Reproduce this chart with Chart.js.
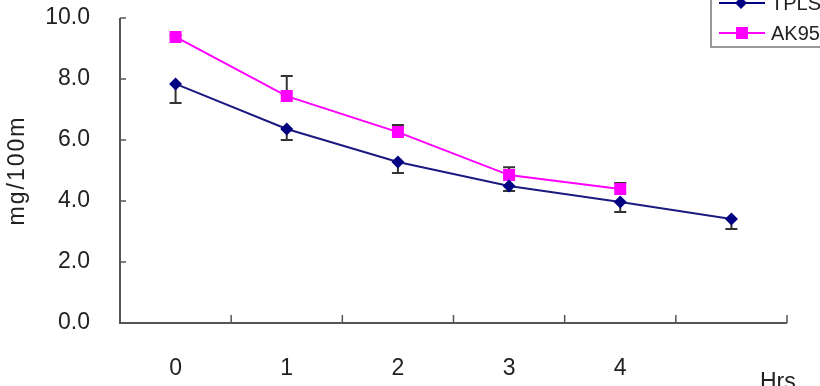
<!DOCTYPE html>
<html>
<head>
<meta charset="utf-8">
<script src="https://cdn.jsdelivr.net/npm/chart.js@4/dist/chart.umd.min.js"></script>
<style>
  body { margin: 0; background: #fff; }
</style>
</head>
<body>
<canvas id="chart" width="820" height="386"></canvas>
<script>
// values
let hours = ["0", "1", "2", "3", "4", ""];
let tplsValues = [7.84, 6.36, 5.28, 4.49, 3.97, 3.41];
let tplsErr = [0.63, 0.36, 0.36, 0.16, 0.33, 0.33];
let akValues = [9.38, 7.44, 6.26, 4.85, 4.39, null];
let akErr = [0.05, 0.66, 0.23, 0.26, 0.2, null];
let yTicks = [0, 2, 4, 6, 8, 10];

let font = "Liberation Sans";
let axisColor = "#555";

// error bars: TPLS drawn downward, AK95 upward
let errorBars = {
  id: "errorBars",
  beforeDatasetsDraw(chart) {
    let ctx = chart.ctx;
    let y = chart.scales.y;
    ctx.save();
    ctx.strokeStyle = "#333";
    ctx.lineWidth = 2;
    chart.data.datasets.forEach((ds, i) => {
      let meta = chart.getDatasetMeta(i);
      meta.data.forEach((pt, j) => {
        let v = ds.data[j];
        let e = ds.errors[j];
        if (v == null || e == null) return;
        let yEnd = y.getPixelForValue(v + e * ds.errorDir);
        ctx.beginPath();
        ctx.moveTo(pt.x, pt.y);
        ctx.lineTo(pt.x, yEnd);
        ctx.moveTo(pt.x - 6, yEnd);
        ctx.lineTo(pt.x + 6, yEnd);
        ctx.stroke();
      });
    });
    ctx.restore();
  }
};

// axis lines with inward tick marks, axis titles and the clipped legend box
let decorations = {
  id: "decorations",
  afterDraw(chart) {
    let ctx = chart.ctx;
    let area = chart.chartArea;
    let y = chart.scales.y;
    ctx.save();

    ctx.strokeStyle = axisColor;
    ctx.lineWidth = 2;
    ctx.beginPath();
    ctx.moveTo(area.left, area.top);
    ctx.lineTo(area.left, area.bottom);
    ctx.lineTo(area.right, area.bottom);
    ctx.stroke();

    ctx.lineWidth = 1.5;
    ctx.beginPath();
    yTicks.forEach((t) => {
      let py = y.getPixelForValue(t);
      ctx.moveTo(area.left, py);
      ctx.lineTo(area.left + 6, py);
    });
    let step = (area.right - area.left) / hours.length;
    for (let i = 1; i <= hours.length; i++) {
      let px = area.left + step * i;
      ctx.moveTo(px, area.bottom);
      ctx.lineTo(px, area.bottom - 8);
    }
    ctx.stroke();

    ctx.fillStyle = "#222";
    ctx.font = "23px '" + font + "'";
    ctx.letterSpacing = "2px";
    ctx.translate(18, (area.top + area.bottom) / 2);
    ctx.rotate(-Math.PI / 2);
    ctx.textAlign = "center";
    ctx.textBaseline = "middle";
    ctx.fillText("mg/100m", 0, 0);
    ctx.setTransform(1, 0, 0, 1, 0, 0);
    ctx.letterSpacing = "0px";

    ctx.textAlign = "left";
    ctx.textBaseline = "top";
    ctx.fillText("Hrs", 760, 371);

    // legend box, cut by the right edge as in the reference
    ctx.strokeStyle = "#777";
    ctx.lineWidth = 1.5;
    ctx.strokeRect(711, -5, 130, 52);
    ctx.font = "20px '" + font + "'";
    ctx.textBaseline = "middle";
    let rows = [
      { label: "TPLS", color: "#000080", y: 3, shape: "diamond" },
      { label: "AK95", color: "#FF00FF", y: 33, shape: "square" }
    ];
    rows.forEach((r) => {
      ctx.strokeStyle = r.color;
      ctx.lineWidth = 2;
      ctx.beginPath();
      ctx.moveTo(719, r.y);
      ctx.lineTo(765, r.y);
      ctx.stroke();
      ctx.fillStyle = r.color;
      ctx.beginPath();
      if (r.shape == "diamond") {
        ctx.moveTo(741, r.y - 6);
        ctx.lineTo(747, r.y);
        ctx.lineTo(741, r.y + 6);
        ctx.lineTo(735, r.y);
      } else {
        ctx.rect(736, r.y - 6, 12, 12);
      }
      ctx.fill();
      ctx.fillStyle = "#222";
      ctx.fillText(r.label, 771, r.y + 1);
    });
    ctx.restore();
  }
};

new Chart("chart", {
  type: "line",
  data: {
    labels: hours,
    datasets: [
      {
        label: "TPLS",
        data: tplsValues,
        errors: tplsErr,
        errorDir: -1,
        borderColor: "#1a1a80",
        backgroundColor: "#000080",
        borderWidth: 2,
        pointStyle: "rectRot",
        pointRadius: 6.5,
        pointBorderWidth: 0,
        tension: 0
      },
      {
        label: "AK95",
        data: akValues,
        errors: akErr,
        errorDir: 1,
        borderColor: "#FF00FF",
        backgroundColor: "#FF00FF",
        borderWidth: 2,
        pointStyle: "rect",
        pointRadius: 8.5,
        pointBorderWidth: 0,
        tension: 0
      }
    ]
  },
  options: {
    responsive: false,
    animation: false,
    layout: { padding: { left: 0, top: 18, right: 33, bottom: 0 } },
    plugins: {
      legend: { display: false },
      tooltip: { enabled: false }
    },
    scales: {
      x: {
        offset: true,
        grid: { display: false, drawTicks: false },
        border: { display: false },
        ticks: {
          color: "#222",
          padding: 32,
          font: { family: font, size: 23 },
          maxRotation: 0
        },
        afterFit: (s) => { s.height = 63; s.paddingLeft = 0; s.paddingRight = 0; }
      },
      y: {
        min: 0,
        max: 10,
        afterBuildTicks: (s) => { s.ticks = yTicks.map((v) => ({ value: v })); },
        grid: { display: false, drawTicks: false },
        border: { display: false },
        ticks: {
          color: "#222",
          padding: 30,
          font: { family: font, size: 23 },
          callback: (v) => Number(v).toFixed(1)
        },
        afterFit: (s) => { s.width = 120; s.paddingTop = 0; s.paddingBottom = 0; }
      }
    }
  },
  plugins: [errorBars, decorations]
});
</script>
</body>
</html>
